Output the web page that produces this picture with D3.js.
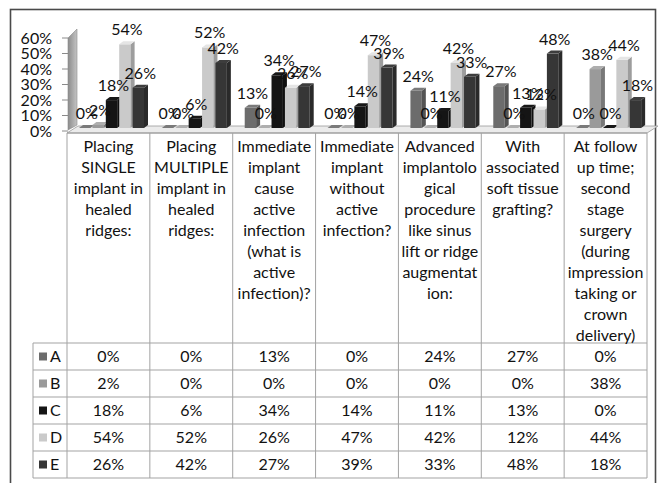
<!DOCTYPE html>
<html>
<head>
<meta charset="utf-8">
<script src="https://cdn.jsdelivr.net/npm/d3@7/dist/d3.min.js"></script>
<style>
  html, body { margin: 0; padding: 0; background: #fff; }
  svg { display: block; font-family: Lato, "Open Sans", sans-serif; }
</style>
</head>
<body>
<svg id="chart" width="665" height="483"></svg>
<script>
// ---------------- data ----------------
const categoryLines = [
  ["Placing", "SINGLE", "implant in", "healed", "ridges:"],
  ["Placing", "MULTIPLE", "implant in", "healed", "ridges:"],
  ["Immediate", "implant", "cause", "active", "infection", "(what is", "active", "infection)?"],
  ["Immediate", "implant", "without", "active", "infection?"],
  ["Advanced", "implantolo", "gical", "procedure", "like sinus", "lift or ridge", "augmentat", "ion:"],
  ["With", "associated", "soft tissue", "grafting?"],
  ["At follow", "up time;", "second", "stage", "surgery", "(during", "impression", "taking or", "crown", "delivery)"]
];
const seriesNames = ["A", "B", "C", "D", "E"];
const valuesA = [0, 0, 13, 0, 24, 27, 0];
const valuesB = [2, 0, 0, 0, 0, 0, 38];
const valuesC = [18, 6, 34, 14, 11, 13, 0];
const valuesD = [54, 52, 26, 47, 42, 12, 44];
const valuesE = [26, 42, 27, 39, 33, 48, 18];
const yTicks = [0, 10, 20, 30, 40, 50, 60];

const seriesValues = [valuesA, valuesB, valuesC, valuesD, valuesE];
const seriesColors = ["#6c6c6c", "#9a9a9a", "#151515", "#cacaca", "#363636"];

// ---------------- layout ----------------
const svg = d3.select("#chart");
const tableLeft = 67, tableRight = 647, legendLeft = 33;
const headerTop = 133, rowTop = 343, rowH = 27;
const depthX = 4, depthY = 3;
const fontSize = 16;

const x = d3.scaleBand().domain(d3.range(categoryLines.length)).range([tableLeft, tableRight]);
const xs = d3.scaleBand().domain(seriesNames).range([12, 77]).paddingInner(0.15);
const y = d3.scaleLinear().domain([0, 60]).range([131, 38]);

// outer frame
svg.append("rect").attr("x", 10.5).attr("y", 9.5).attr("width", 645).attr("height", 490)
  .attr("fill", "#fff").attr("stroke", "#4a4a4a").attr("stroke-width", 1.6);

// defs
const defs = svg.append("defs");
const wg = defs.append("linearGradient").attr("id", "wallg").attr("x1", 0).attr("x2", 1);
wg.append("stop").attr("offset", "0%").attr("stop-color", "#8c8c8c");
wg.append("stop").attr("offset", "100%").attr("stop-color", "#c4c4c4");

// side wall
svg.append("polygon")
  .attr("points", [[68, y(0) - 1], [68, y(60)], [68 + 9, y(60) - 9], [68 + 9, y(0) - 6]].map(p => p.join(",")).join(" "))
  .attr("fill", "url(#wallg)").attr("stroke", "#8a8a8a").attr("stroke-width", 0.6);

// floor
const floorY = headerTop;
svg.append("polygon")
  .attr("points", [[tableLeft, floorY], [tableRight, floorY], [tableRight + 11, floorY - 7], [tableLeft + 11, floorY - 7]].map(p => p.join(",")).join(" "))
  .attr("fill", "#ebebeb").attr("stroke", "#9a9a9a").attr("stroke-width", 0.8);
svg.append("line").attr("x1", tableLeft).attr("x2", tableRight).attr("y1", floorY).attr("y2", floorY)
  .attr("stroke", "#9a9a9a").attr("stroke-width", 1.2);

// y axis ticks + labels
svg.append("g").selectAll("line").data(yTicks).join("line")
  .attr("x1", 62).attr("x2", 68).attr("y1", d => y(d)).attr("y2", d => y(d))
  .attr("stroke", "#8a8a8a").attr("stroke-width", 1);
svg.append("g").selectAll("text").data(yTicks).join("text")
  .attr("x", 52).attr("y", d => y(d)).attr("dy", "0.35em")
  .attr("text-anchor", "end").attr("font-size", fontSize).attr("fill", "#111")
  .text(d => d + "%");

// bars
const barsG = svg.append("g");
const labelsG = svg.append("g");
categoryLines.forEach((c, ci) => {
  seriesNames.forEach((s, si) => {
    const v = seriesValues[si][ci];
    const x0 = x(ci) + xs(s);
    const w = xs.bandwidth();
    const yb = y(0) - 3;
    const yt = y(v) - 3;
    const col = d3.color(seriesColors[si]);
    const g = barsG.append("g");
    if (yb - yt > 0) {
      g.append("rect").attr("x", x0).attr("y", yt).attr("width", w).attr("height", yb - yt)
        .attr("fill", col.formatHex());
      g.append("polygon")
        .attr("points", [[x0 + w, yt], [x0 + w + depthX, yt - depthY], [x0 + w + depthX, yb - depthY], [x0 + w, yb]].map(p => p.join(",")).join(" "))
        .attr("fill", col.darker(0.7).formatHex());
    }
    g.append("polygon")
      .attr("points", [[x0, yt], [x0 + w, yt], [x0 + w + depthX, yt - depthY], [x0 + depthX, yt - depthY]].map(p => p.join(",")).join(" "))
      .attr("fill", col.brighter(0.35).formatHex());
    labelsG.append("text")
      .attr("x", x0 + w / 2 + depthX / 2).attr("y", yt - depthY - 6)
      .attr("text-anchor", "middle").attr("font-size", fontSize).attr("fill", "#111")
      .text(v + "%");
  });
});

// ---------------- table ----------------
const gridColor = "#a3a3a3";
const tg = svg.append("g");
const colEdges = d3.range(categoryLines.length + 1).map(i => i < categoryLines.length ? x(i) : tableRight);
tg.selectAll("line.v").data(colEdges).join("line")
  .attr("x1", d => d).attr("x2", d => d).attr("y1", headerTop).attr("y2", rowTop + rowH * seriesNames.length)
  .attr("stroke", gridColor).attr("stroke-width", 1);
tg.append("line").attr("x1", legendLeft).attr("x2", legendLeft).attr("y1", rowTop).attr("y2", rowTop + rowH * seriesNames.length)
  .attr("stroke", gridColor);
tg.selectAll("line.h").data(d3.range(seriesNames.length + 1)).join("line")
  .attr("x1", legendLeft).attr("x2", tableRight)
  .attr("y1", d => rowTop + d * rowH).attr("y2", d => rowTop + d * rowH)
  .attr("stroke", gridColor).attr("stroke-width", 1);

// category labels
categoryLines.forEach((lines, ci) => {
  const t = tg.append("text").attr("text-anchor", "middle").attr("font-size", fontSize).attr("fill", "#111");
  lines.forEach((ln, li) => {
    t.append("tspan").attr("x", x(ci) + x.bandwidth() / 2).attr("y", 146 + li * 21).attr("dy", "0.35em").text(ln);
  });
});

// legend + values
seriesNames.forEach((s, si) => {
  const cy = rowTop + si * rowH + rowH / 2;
  tg.append("rect").attr("x", 39).attr("y", cy - 4).attr("width", 8).attr("height", 8).attr("fill", seriesColors[si]);
  tg.append("text").attr("x", 50).attr("y", cy).attr("dy", "0.35em").attr("font-size", fontSize).attr("fill", "#111").text(s);
  seriesValues[si].forEach((v, ci) => {
    tg.append("text").attr("x", x(ci) + x.bandwidth() / 2).attr("y", cy).attr("dy", "0.35em")
      .attr("text-anchor", "middle").attr("font-size", fontSize).attr("fill", "#111").text(v + "%");
  });
});
</script>
</body>
</html>
